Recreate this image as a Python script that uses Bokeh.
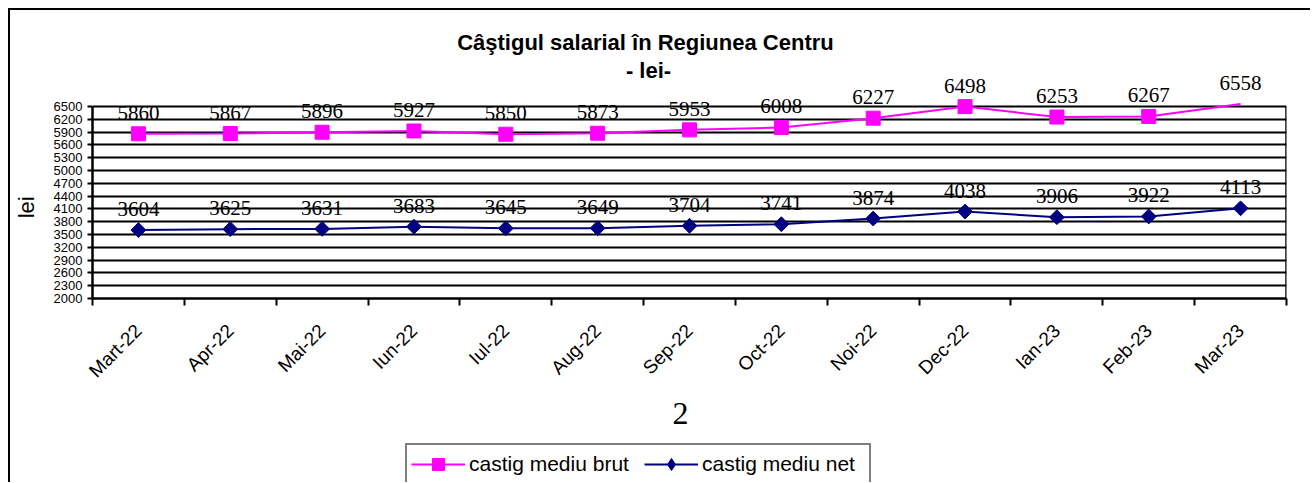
import math
from bokeh.plotting import figure
from bokeh.layouts import column
from bokeh.models import (Range1d, FixedTicker, Label, LabelSet, Legend, LegendItem,
                          ColumnDataSource, CDSView, BooleanFilter, Title)
from bokeh.core.properties import value
from bokeh.embed import file_html
from bokeh.resources import INLINE

months = ["Mart-22", "Apr-22", "Mai-22", "Iun-22", "Iul-22", "Aug-22", "Sep-22",
          "Oct-22", "Noi-22", "Dec-22", "Ian-23", "Feb-23", "Mar-23"]
brut = [5860, 5867, 5896, 5927, 5850, 5873, 5953, 6008, 6227, 6498, 6253, 6267, 6558]
net = [3604, 3625, 3631, 3683, 3645, 3649, 3704, 3741, 3874, 4038, 3906, 3922, 4113]
yticks = list(range(2000, 6501, 300))
title1 = "Câştigul salarial  în Regiunea Centru"
title2 = "- lei-"
y_title = "lei"
page_no = "2"
name_brut = "castig mediu brut"
name_net = "castig mediu net"

MAGENTA = "#FF00FF"
NAVY = "#000080"
SANS = "Liberation Sans"
SERIF = "Liberation Serif"
NBSP = "\u00a0"

ymin, ymax = yticks[0], yticks[-1]

# layout (pixels, relative to the content box)
W, H1, H2 = 1300, 430, 42
AXIS_TOP, AXIS_BOTTOM = 96, 288      # where ymax / ymin sit
FRAME_TOP = 14
px_per_unit = (AXIS_BOTTOM - AXIS_TOP) / (ymax - ymin)
y_end = ymax + (AXIS_TOP - FRAME_TOP) / px_per_unit

xs = list(range(len(months)))
src = ColumnDataSource(dict(x=xs, brut=brut, net=net,
                            brut_lbl=[str(v) for v in brut],
                            net_lbl=[str(v) for v in net]))
view_brut = CDSView(filter=BooleanFilter([v <= ymax for v in brut]))
view_net = CDSView(filter=BooleanFilter([v <= ymax for v in net]))

p = figure(width=W, height=H1,
           x_range=Range1d(-0.5, len(months) - 0.5),
           y_range=Range1d(ymin, y_end),
           output_backend="svg", toolbar_location=None,
           min_border_left=81, min_border_right=24,
           min_border_top=FRAME_TOP, min_border_bottom=H1 - AXIS_BOTTOM)
p.outline_line_color = None
p.background_fill_color = "white"
p.border_fill_color = "white"

# grid
p.xgrid.visible = False
p.ygrid.ticker = FixedTicker(ticks=yticks)
p.ygrid.grid_line_color = "black"
p.ygrid.grid_line_width = 2

# x axis
xa = p.xaxis[0]
xa.ticker = FixedTicker(ticks=xs, minor_ticks=[i - 0.5 for i in range(len(months) + 1)])
xa.major_label_overrides = {i: m for i, m in enumerate(months)}
xa.major_tick_line_color = None
xa.minor_tick_line_color = "black"
xa.minor_tick_line_width = 2
xa.minor_tick_out = 7
xa.minor_tick_in = 0
xa.axis_line_color = "black"
xa.axis_line_width = 2.5
xa.major_label_orientation = math.pi / 4
xa.major_label_text_font = SANS
xa.major_label_text_font_size = "19px"
xa.major_label_text_color = "black"
xa.major_label_standoff = 22

# y axis (label padded so it centres on the 2000-6500 part of the axis)
ya = p.yaxis[0]
ya.ticker = FixedTicker(ticks=yticks)
ya.bounds = (ymin, ymax)
ya.major_tick_out = 5
ya.major_tick_in = 0
ya.major_tick_line_width = 2
ya.major_tick_line_color = "black"
ya.minor_tick_line_color = None
ya.axis_line_color = "black"
ya.axis_line_width = 2.5
ya.major_label_text_font = SANS
ya.major_label_text_font_size = "13px"
ya.major_label_text_color = "black"
ya.major_label_standoff = 5
ya.axis_label = y_title + NBSP * 15
ya.axis_label_text_font = SANS
ya.axis_label_text_font_size = "22px"
ya.axis_label_text_font_style = "normal"
ya.axis_label_text_color = "black"
ya.axis_label_standoff = 12

# right border of plot area
p.segment(x0=[len(months) - 0.5], y0=[ymin], x1=[len(months) - 0.5], y1=[ymax],
          line_color="black", line_width=2.5)

# series
p.line(x="x", y="brut", source=src, line_color=MAGENTA, line_width=2)
p.scatter(x="x", y="brut", source=src, view=view_brut, marker="square", size=14,
          fill_color=MAGENTA, line_color=MAGENTA)
p.line(x="x", y="net", source=src, line_color=NAVY, line_width=2)
p.scatter(x="x", y="net", source=src, view=view_net, marker="square", size=10.5,
          angle=math.pi / 4, fill_color=NAVY, line_color=NAVY)

for col, lbl in (("brut", "brut_lbl"), ("net", "net_lbl")):
    p.add_layout(LabelSet(x="x", y=col, text=lbl, source=src, y_offset=21,
                          text_align="center", text_baseline="middle",
                          text_font=value(SERIF), text_font_size="21px",
                          text_color="black"))

# titles (screen units relative to plot area bottom-left)
p.add_layout(Label(x=556, y=AXIS_BOTTOM - 32, x_units="screen", y_units="screen",
                   text=title1, text_align="center", text_baseline="middle",
                   text_font=SANS, text_font_size="22px",
                   text_font_style="bold", text_color="black"))
p.add_layout(Label(x=556, y=AXIS_BOTTOM - 60, x_units="screen", y_units="screen",
                   text=title2, text_align="center", text_baseline="middle",
                   text_font=SANS, text_font_size="22px",
                   text_font_style="bold", text_color="black"))

# page number below the axis
p.add_layout(Title(text=page_no, align="left", offset=580, standoff=19,
                   text_font=SERIF, text_font_size="32px",
                   text_font_style="normal", text_color="black"), "below")

# legend strip (same series, drawn outside its own ranges so only the legend shows)
p2 = figure(width=W, height=H2, x_range=Range1d(-1000, -999), y_range=Range1d(0, 1),
            output_backend="svg", toolbar_location=None,
            x_axis_type=None, y_axis_type=None, min_border=0)
p2.outline_line_color = None
p2.xgrid.visible = False
p2.ygrid.visible = False
k1 = p2.line(x="x", y="brut", source=src, line_color=MAGENTA, line_width=2)
k1m = p2.scatter(x="x", y="brut", source=src, marker="square", size=14,
                 fill_color=MAGENTA, line_color=MAGENTA)
k2 = p2.line(x="x", y="net", source=src, line_color=NAVY, line_width=2)
k2m = p2.scatter(x="x", y="net", source=src, marker="diamond", size=15,
                 fill_color=NAVY, line_color=NAVY)
legend = Legend(items=[LegendItem(label=name_brut, renderers=[k1, k1m]),
                       LegendItem(label=name_net, renderers=[k2, k2m])],
                location=(313, -3), orientation="horizontal",
                label_text_font=SANS, label_text_font_size="21px",
                label_text_color="black",
                glyph_width=54, glyph_height=30, label_standoff=4, spacing=12,
                padding=4, label_width=163, margin=0,
                border_line_color="black", border_line_width=2.5,
                background_fill_alpha=1)
p2.add_layout(legend)

layout = column(p, p2, spacing=0)
layout.styles = {"margin-left": "8px", "margin-top": "8px",
                 "border-top": "2px solid black", "border-left": "2px solid black"}

open("out.html", "w").write(file_html(layout, INLINE))
